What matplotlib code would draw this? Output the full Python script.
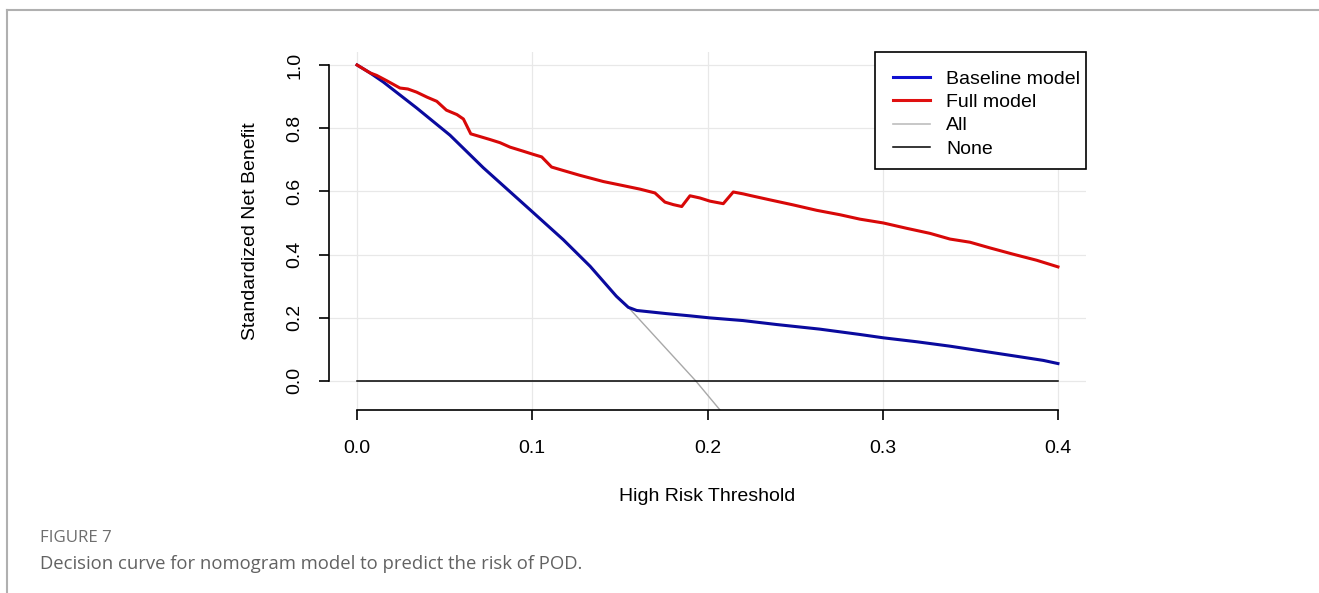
import matplotlib
matplotlib.use('Agg')
import matplotlib.pyplot as plt
from matplotlib.lines import Line2D
from matplotlib.patches import Rectangle

# 读图得到的数据
x_ticks = [0.0, 0.1, 0.2, 0.3, 0.4]
y_ticks = [0.0, 0.2, 0.4, 0.6, 0.8, 1.0]

base_x = [0.0, 0.0074, 0.015, 0.034, 0.053, 0.072, 0.0987, 0.1177, 0.133, 0.148, 0.1548,
          0.1596, 0.1767, 0.190, 0.2014, 0.2204, 0.2395, 0.264, 0.287, 0.3003, 0.3194,
          0.3384, 0.3574, 0.3764, 0.3916, 0.400]
base_y = [1.0, 0.975, 0.946, 0.864, 0.778, 0.675, 0.542, 0.447, 0.363, 0.268, 0.233,
          0.223, 0.213, 0.206, 0.1995, 0.191, 0.1785, 0.164, 0.147, 0.1365, 0.124,
          0.110, 0.094, 0.078, 0.065, 0.055]

full_x = [0.0, 0.0074, 0.0112, 0.017, 0.0245, 0.029, 0.034, 0.040, 0.0455, 0.051, 0.057,
          0.0607, 0.0649, 0.068, 0.0759, 0.0816, 0.0873, 0.0949, 0.1006, 0.1054, 0.111,
          0.1177, 0.127, 0.1406, 0.152, 0.1615, 0.170, 0.1757, 0.1805, 0.1853, 0.190,
          0.1957, 0.2014, 0.209, 0.2147, 0.2204, 0.2243, 0.2357, 0.249, 0.2623, 0.2756,
          0.287, 0.3003, 0.3137, 0.327, 0.3384, 0.3498, 0.3612, 0.3745, 0.3878, 0.400]
full_y = [1.0, 0.975, 0.967, 0.950, 0.927, 0.924, 0.914, 0.898, 0.885, 0.857, 0.843,
          0.829, 0.782, 0.777, 0.764, 0.754, 0.740, 0.727, 0.717, 0.709, 0.677,
          0.666, 0.651, 0.631, 0.618, 0.607, 0.595, 0.566, 0.558, 0.552, 0.586,
          0.579, 0.569, 0.561, 0.598, 0.592, 0.587, 0.573, 0.557, 0.540, 0.526,
          0.512, 0.500, 0.483, 0.467, 0.449, 0.439, 0.421, 0.401, 0.382, 0.361]

all_x = [0.0, 0.015, 0.034, 0.053, 0.072, 0.0987, 0.1177, 0.133, 0.148, 0.1548, 0.1933, 0.21]
all_y = [1.0, 0.946, 0.864, 0.778, 0.675, 0.542, 0.447, 0.363, 0.268, 0.233, 0.0, -0.111]

none_x = [0.0, 0.4]
none_y = [0.0, 0.0]

labels = ['Baseline model', 'Full model', 'All', 'None']

plt.rcParams['font.family'] = ['Liberation Sans', 'DejaVu Sans']

fig = plt.figure(figsize=(13.19, 5.93), dpi=100)
ax = fig.add_axes([329 / 1319, (593 - 410) / 593, 757 / 1319, 358.3 / 593])

ax.set_xlim(-0.016, 0.416)
ax.set_ylim(-0.092, 1.042)
ax.set_xticks(x_ticks)
ax.set_yticks(y_ticks)
ax.set_xticklabels(['%.1f' % v for v in x_ticks])
ax.set_yticklabels(['%.1f' % v for v in y_ticks])
ax.grid(True, color='#e8e8e8', lw=0.9)
ax.set_axisbelow(True)

ax.plot(all_x, all_y, color='#a8a8a8', lw=1.0)
ax.plot(none_x, none_y, color='black', lw=1.1)
ax.plot(base_x, base_y, color='#0a0a9e', lw=2.2)
ax.plot(full_x, full_y, color='#d80808', lw=2.2)

for s in ['top', 'right']:
    ax.spines[s].set_visible(False)
ax.spines['bottom'].set_bounds(0, 0.4)
ax.spines['left'].set_bounds(0, 1)
for s in ['bottom', 'left']:
    ax.spines[s].set_linewidth(1.2)
ax.tick_params(axis='both', direction='out', length=7.5, width=1.2, labelsize=14)
ax.tick_params(axis='x', pad=14)
ax.tick_params(axis='y', pad=11, labelrotation=90)
for t in ax.get_yticklabels():
    t.set_va('center')

ax.set_xlabel('High Risk Threshold', fontsize=14, labelpad=22.5)
ax.set_ylabel('Standardized Net Benefit', fontsize=14, labelpad=20)

# 图例 (R 风格的框)
h = [Line2D([], [], color='#1010d0', lw=2.2), Line2D([], [], color='#e01010', lw=2.2),
     Line2D([], [], color='#bdbdbd', lw=1.2), Line2D([], [], color='black', lw=1.1)]
ax.add_patch(Rectangle((0.7213, 0.6726), 0.2787, 0.3274, transform=ax.transAxes,
                       facecolor='white', edgecolor='black', lw=1.2, zorder=4, clip_on=False))
leg = ax.legend(h, labels, loc='upper left', bbox_to_anchor=(0.745, 0.949), fontsize=14,
                frameon=False, borderaxespad=0, borderpad=0, handlelength=1.9,
                handletextpad=0.85, labelspacing=0.3)
leg.set_zorder(5)

# 外框线
fig.add_artist(Line2D([7 / 1319, 1.0], [1 - 10 / 593, 1 - 10 / 593], color='#b0b0b0', lw=1.5))
fig.add_artist(Line2D([7 / 1319, 7 / 1319], [1 - 10 / 593, 0.0], color='#b0b0b0', lw=1.5))

fig.text(40 / 1319, 1 - 538 / 593, 'FIGURE 7', family='Open Sans', fontsize=12.2,
         color='#6e6e6e', va='center')
fig.text(40 / 1319, 1 - 564 / 593, 'Decision curve for nomogram model to predict the risk of POD.',
         family='Open Sans', fontsize=13.3, color='#626262', va='center')

fig.savefig('out.png', dpi=100)
